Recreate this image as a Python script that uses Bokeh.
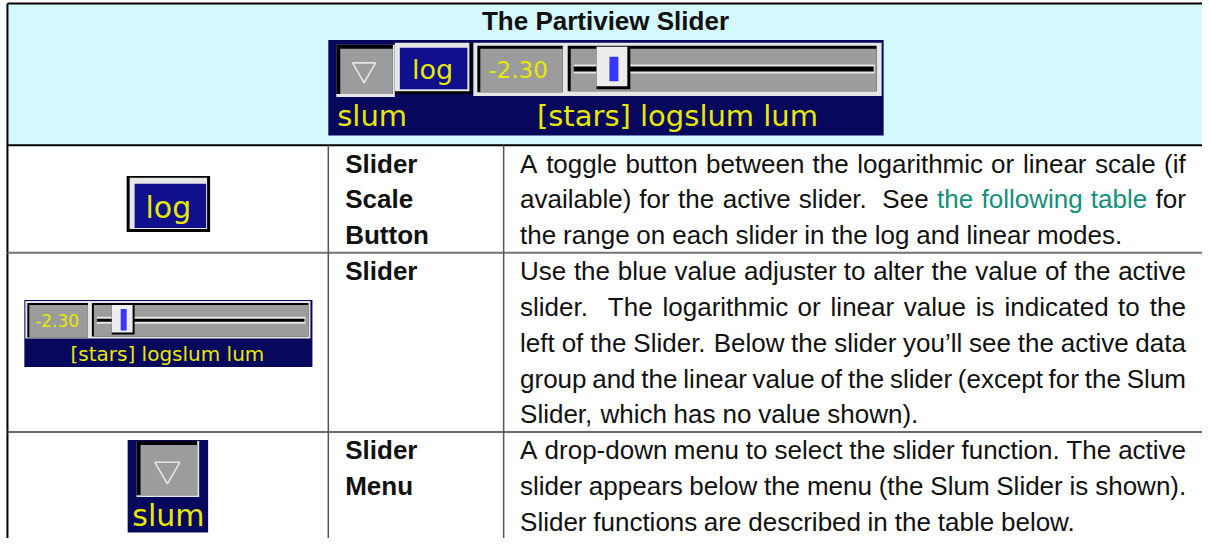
from bokeh.plotting import figure
from bokeh.models import Range1d, ColumnDataSource
from bokeh.core.properties import value
from bokeh.embed import file_html
from bokeh.resources import INLINE

# ---------------- content ----------------
title = "The Partiview Slider"
menu_label = "slum"
scale_label = "log"
value_label = "-2.30"
group_label = "[stars] logslum lum"

row_labels = [["Slider", "Scale", "Button"], ["Slider"], ["Slider", "Menu"]]
row_lines = [
    ["A toggle button between the logarithmic or linear scale (if",
     "available) for the active slider.  See the following table for",
     "the range on each slider in the log and linear modes."],
    ["Use the blue value adjuster to alter the value of the active",
     "slider.  The logarithmic or linear value is indicated to the",
     "left of the Slider. Below the slider you\u2019ll see the active data",
     "group and the linear value of the slider (except for the Slum",
     "Slider, which has no value shown)."],
    ["A drop-down menu to select the slider function. The active",
     "slider appears below the menu (the Slum Slider is shown).",
     "Slider functions are described in the table below."],
]
link_text = "the following table"
link_row, link_line = 0, 1

# ---------------- styles / layout ----------------
NAVY = "#07075c"
BLUE = "#10108e"
GRAY = "#9c9c9c"
LIGHT = "#e6e6e6"
HANDLE = "#ededed"
BAR = "#3636ff"
YEL = "#e8e800"
CYAN = "#d3f8fd"
TEXT = "#111111"
LINK = "#11907c"
BODY_FONT = "Liberation Sans"
PIX_FONT = "DejaVu Sans"
FS = 26
LINE_H = 36.4
FIRST = 26.5
ROW_TOPS = [147, 256, 438]
COL1, COL2 = 330, 506.5
LABEL_X = 347
DX0, DX1 = 523, 1193
BASE_FIX = 0.31   # baseline correction (em) for the svg text renderer

# Arial / Helvetica advance widths (1/1000 em)
W = {' ': 278, '(': 333, ')': 333, ',': 278, '-': 333, '.': 278, '\u2019': 222, "'": 191,
     'A': 667, 'B': 667, 'C': 722, 'D': 722, 'E': 667, 'F': 611, 'G': 778, 'H': 722, 'I': 278,
     'J': 500, 'K': 667, 'L': 556, 'M': 833, 'N': 722, 'O': 778, 'P': 667, 'Q': 778, 'R': 722,
     'S': 667, 'T': 611, 'U': 722, 'V': 667, 'W': 944, 'X': 667, 'Y': 667, 'Z': 611,
     'a': 556, 'b': 556, 'c': 500, 'd': 556, 'e': 556, 'f': 278, 'g': 556, 'h': 556, 'i': 222,
     'j': 222, 'k': 500, 'l': 222, 'm': 833, 'n': 556, 'o': 556, 'p': 556, 'q': 556, 'r': 333,
     's': 500, 't': 278, 'u': 556, 'v': 500, 'w': 722, 'x': 500, 'y': 500, 'z': 500}


def wwidth(word, size):
    return sum(W.get(ch, 556) for ch in word) / 1000.0 * size


quads = dict(l=[], r=[], t=[], b=[], c=[])
segs = dict(x0=[], y0=[], x1=[], y1=[], c=[], w=[])
texts = dict(x=[], y=[], text=[], font=[], size=[], style=[], color=[], align=[])
tris = dict(x=[], y=[], s=[])


def q(l, r, t, b, c):
    quads["l"].append(l); quads["r"].append(r); quads["t"].append(t)
    quads["b"].append(b); quads["c"].append(c)


def seg(x0, y0, x1, y1, c, w):
    segs["x0"].append(x0); segs["y0"].append(y0); segs["x1"].append(x1)
    segs["y1"].append(y1); segs["c"].append(c); segs["w"].append(w)


def txt(x, y, s, font, size, style="normal", color=TEXT, align="left"):
    texts["x"].append(x); texts["y"].append(y - BASE_FIX * size); texts["text"].append(s)
    texts["font"].append(font); texts["size"].append("%gpx" % size)
    texts["style"].append(style); texts["color"].append(color); texts["align"].append(align)


def justify_line(line, y, justify, colors):
    raw = line.split(" ")
    words, big = [], []
    for tok in raw:
        if tok == "":
            if big:
                big[-1] = True
            continue
        words.append(tok)
        big.append(False)
    ws = [wwidth(w_, FS) for w_ in words]
    nat = [(0.278 + (0.111 if big[i] else 0.0)) * FS for i in range(len(words) - 1)]
    wt = [3.0 if big[i] else 1.0 for i in range(len(words) - 1)]
    gaps = nat[:]
    if justify and len(words) > 1:
        extra = (DX1 - DX0) - sum(ws) - sum(nat)
        tw = sum(wt)
        gaps = [nat[i] + extra * wt[i] / tw for i in range(len(nat))]
    x = DX0
    for i, w_ in enumerate(words):
        txt(x, y, w_, BODY_FONT, FS, color=colors[i])
        x += ws[i] + (gaps[i] if i < len(gaps) else 0)


# ---------------- table frame ----------------
q(7, 1211, 3, 147, CYAN)

# header title
txt(609, 29, title, BODY_FONT, FS, style="bold", align="center")

# header panel (slider widget)
q(330, 889, 40, 137, NAVY)
q(338, 397, 45, 98, LIGHT)
q(338, 395, 45, 95, "black")
q(342, 395, 49, 95, GRAY)
tris["x"].append(366); tris["y"].append(70); tris["s"].append(23)
q(397, 475, 43, 95, "black")
q(397, 472, 43, 92, LIGHT)
q(402, 470, 48, 90, BLUE)
txt(435, 78, scale_label, PIX_FONT, 27, color=YEL, align="center")
q(476, 887, 43, 97, LIGHT)
q(480, 566, 46, 93, "black")
q(483, 566, 49, 93, GRAY)
txt(521, 77, value_label, PIX_FONT, 23, color=YEL, align="center")
q(571, 882, 46, 92, "black")
q(574, 882, 49, 92, GRAY)
q(577, 880, 65, 74, LIGHT)
q(577, 879, 67, 72, "black")
q(600, 634, 47, 90, "black")
q(600, 631, 47, 87, HANDLE)
q(613, 622, 57, 82, BAR)
txt(339, 126, menu_label, PIX_FONT, 29, color=YEL)
txt(540, 126, group_label, PIX_FONT, 29, color=YEL)

# row 1 icon: log button
q(127, 211, 178, 235, "black")
q(130, 208, 180, 232, LIGHT)
q(135, 207, 186, 231, BLUE)
txt(169, 219, scale_label, PIX_FONT, 30, color=YEL, align="center")

# row 2 icon: slider
q(24, 314, 304, 372, NAVY)
q(25, 312, 305, 343, LIGHT)
q(27, 88, 307, 342, "black")
q(29, 88, 309, 342, GRAY)
txt(57, 330, value_label, PIX_FONT, 17, color=YEL, align="center")
q(92, 310, 307, 341, "black")
q(94, 310, 309, 341, GRAY)
q(97, 307, 321, 328, LIGHT)
q(97, 306, 323, 326, "black")
q(112, 135, 309, 339, "black")
q(112, 133, 309, 337, HANDLE)
q(121, 127, 313, 335, BAR)
txt(168, 365, group_label, PIX_FONT, 20, color=YEL, align="center")

# row 3 icon: slider menu
q(128, 209, 446, 540, NAVY)
q(137, 200, 447, 504, LIGHT)
q(137, 198, 447, 502, "black")
q(141, 198, 451, 502, GRAY)
tris["x"].append(168); tris["y"].append(476); tris["s"].append(25)
txt(169, 532, menu_label, PIX_FONT, 30, color=YEL, align="center")

# rows: labels and descriptions
for r, top in enumerate(ROW_TOPS):
    for k, lab in enumerate(row_labels[r]):
        txt(LABEL_X, top + FIRST + k * LINE_H, lab, BODY_FONT, FS, style="bold")
    lines = row_lines[r]
    for k, line in enumerate(lines):
        y = top + FIRST + k * LINE_H
        nw = len(line.split())
        colors = [TEXT] * nw
        if r == link_row and k == link_line:
            lw = line.split()
            lk = link_text.split()
            for i in range(nw - len(lk) + 1):
                if lw[i:i + len(lk)] == lk:
                    for j in range(len(lk)):
                        colors[i + j] = LINK
                    break
        justify_line(line, y, k < len(lines) - 1, colors)

# rules
seg(7, 3, 1211, 3, "black", 2)
seg(7, 3, 7, 546, "black", 2)
seg(7, 147, 1211, 147, "black", 2)
seg(7, 256, 1211, 256, "#737373", 2)
seg(7, 438, 1211, 438, "#3a3a3a", 1.5)
seg(COL1, 147, COL1, 546, "#555555", 1.5)
seg(COL2, 147, COL2, 546, "#555555", 1.5)

# ---------------- figure ----------------
p = figure(width=1202, height=538, x_range=Range1d(0, 1210), y_range=Range1d(546, 0),
           output_backend="svg", toolbar_location=None, x_axis_type=None, y_axis_type=None,
           min_border=0, background_fill_color="white", border_fill_color="white")
p.outline_line_color = None
p.xgrid.grid_line_color = None
p.ygrid.grid_line_color = None

p.quad(left="l", right="r", top="t", bottom="b", fill_color="c", line_color=None,
       source=ColumnDataSource(quads))
p.scatter(x="x", y="y", size="s", marker="inverted_triangle", fill_alpha=0,
          line_color="#e4e4e4", line_width=1.6, source=ColumnDataSource(tris))
p.segment(x0="x0", y0="y0", x1="x1", y1="y1", line_color="c", line_width="w",
          source=ColumnDataSource(segs))
p.text(x="x", y="y", text="text", text_font="font", text_font_size="size",
       text_font_style="style", text_color="color", text_align="align",
       text_baseline="alphabetic", source=ColumnDataSource(texts))

open("out.html", "w").write(file_html(p, INLINE))
